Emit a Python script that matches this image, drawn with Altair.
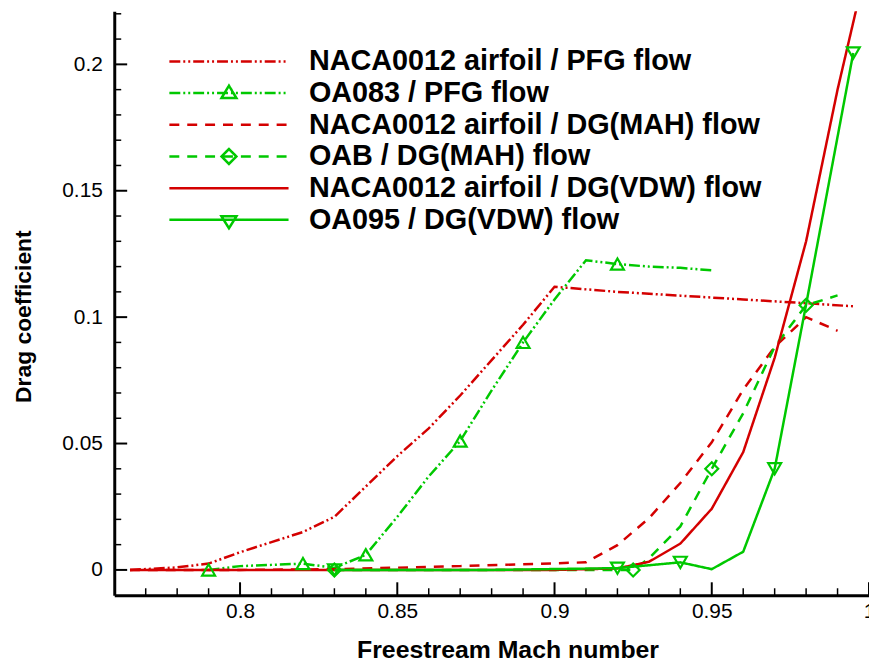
import altair as alt
import pandas as pd

RED = "#d40000"
GREEN = "#00c800"
FONT = "Liberation Sans"

series_names = [
    "NACA0012 airfoil / PFG flow",
    "OA083 / PFG flow",
    "NACA0012 airfoil / DG(MAH) flow",
    "OAB / DG(MAH) flow",
    "NACA0012 airfoil / DG(VDW) flow",
    "OA095 / DG(VDW) flow",
]
series_colors = [RED, GREEN, RED, GREEN, RED, GREEN]
series_dashes = [[11, 3, 2, 3, 2, 3], [11, 3, 2, 3, 2, 3], [10, 8], [10, 8], [1, 0], [1, 0]]

# legend symbols: a 121px line with the marker drawn from each vertex (so dashes cover it)
TRI_UP = "M-0.75,0.5L0,-0.75L0.75,0.5ZM0,-0.75L0.75,0.5L-0.75,0.5ZM0.75,0.5L-0.75,0.5L0,-0.75Z"
DIAM = ("M-0.75,0L0,-0.75L0.75,0L0,0.75ZM0,-0.75L0.75,0L0,0.75L-0.75,0Z"
        "M0.75,0L0,0.75L-0.75,0L0,-0.75ZM0,0.75L-0.75,0L0,-0.75L0.75,0Z")
TRI_DN = "M-0.75,-0.35L0.75,-0.35L0,0.85ZM0.75,-0.35L0,0.85L-0.75,-0.35ZM0,0.85L-0.75,-0.35L0.75,-0.35Z"
legend_shapes = [
    "M-6,0H6",
    "M-6,0H6" + TRI_UP,
    "M-6,0H6",
    "M-6,0H6" + DIAM,
    "M-6,0H6",
    "M-6,0H6" + TRI_DN,
]

# ---- data ----
naca_pfg_mach = [0.765, 0.78, 0.79, 0.80, 0.81, 0.82, 0.83, 0.84, 0.85, 0.86, 0.87, 0.88, 0.89, 0.90, 0.92, 0.94, 0.96, 0.98, 0.995]
naca_pfg_cd = [0.0, 0.001, 0.0025, 0.007, 0.011, 0.015, 0.021, 0.033, 0.045, 0.056, 0.069, 0.083, 0.097, 0.112, 0.110, 0.1085, 0.107, 0.1055, 0.1043]

oa083_mach = [0.79, 0.80, 0.81, 0.82, 0.83, 0.84, 0.85, 0.86, 0.87, 0.88, 0.89, 0.90, 0.91, 0.92, 0.93, 0.94, 0.95]
oa083_cd = [0.0, 0.0015, 0.002, 0.0025, 0.0008, 0.006, 0.021, 0.037, 0.051, 0.071, 0.090, 0.107, 0.1225, 0.121, 0.120, 0.1195, 0.1185]
oa083_marker_mach = [0.79, 0.82, 0.84, 0.87, 0.89, 0.92]

naca_mah_mach = [0.765, 0.80, 0.83, 0.87, 0.91, 0.92, 0.93, 0.94, 0.95, 0.96, 0.97, 0.98, 0.99]
naca_mah_cd = [0.0, 0.0, 0.0003, 0.0015, 0.003, 0.0098, 0.0204, 0.0344, 0.0505, 0.0713, 0.0882, 0.100, 0.0946]

oab_mach = [0.83, 0.88, 0.925, 0.93, 0.94, 0.95, 0.96, 0.97, 0.98, 0.99]
oab_cd = [0.0, 0.0, 0.0, 0.0045, 0.0172, 0.040, 0.062, 0.0883, 0.1047, 0.1086]
oab_marker_mach = [0.83, 0.925, 0.95, 0.98]

naca_vdw_mach = [0.765, 0.80, 0.85, 0.90, 0.92, 0.93, 0.94, 0.95, 0.96, 0.97, 0.98, 0.99, 0.996]
naca_vdw_cd = [0.0, 0.0, 0.0, 0.0, 0.0006, 0.0032, 0.0104, 0.0242, 0.0466, 0.0839, 0.130, 0.190, 0.222]

oa095_mach = [0.83, 0.88, 0.92, 0.94, 0.95, 0.96, 0.97, 0.98, 0.995]
oa095_cd = [0.0, 0.0, 0.0007, 0.003, 0.0003, 0.0072, 0.040, 0.105, 0.2045]
oa095_marker_mach = [0.83, 0.92, 0.94, 0.97, 0.995]

x_major_ticks = [0.8, 0.85, 0.9, 0.95, 1.0]
x_minor_ticks = [0.77, 0.78, 0.79, 0.81, 0.82, 0.83, 0.84, 0.86, 0.87, 0.88, 0.89,
                 0.91, 0.92, 0.93, 0.94, 0.96, 0.97, 0.98, 0.99]
y_major_ticks = [0.0, 0.05, 0.1, 0.15, 0.2]
y_minor_ticks = [0.01, 0.02, 0.03, 0.04, 0.06, 0.07, 0.08, 0.09, 0.11, 0.12, 0.13, 0.14,
                 0.16, 0.17, 0.18, 0.19, 0.21, 0.22]

series_data = [
    (naca_pfg_mach, naca_pfg_cd, []),
    (oa083_mach, oa083_cd, oa083_marker_mach),
    (naca_mah_mach, naca_mah_cd, []),
    (oab_mach, oab_cd, oab_marker_mach),
    (naca_vdw_mach, naca_vdw_cd, []),
    (oa095_mach, oa095_cd, oa095_marker_mach),
]

rows = []
for name, (ms, cds, marks) in zip(series_names, series_data):
    mk = {round(m, 4) for m in marks}
    for i, (m, c) in enumerate(zip(ms, cds)):
        rows.append({"series": name, "M": m, "Cd": c, "marker": round(m, 4) in mk, "order": i})
df = pd.DataFrame(rows)

W, H = 760, 588

xs = alt.Scale(domain=[0.76, 1.0], nice=False, zero=False)
ys = alt.Scale(domain=[-0.01, 0.221], nice=False, zero=False)

x_axis = alt.Axis(
    values=x_major_ticks, format="~g", ticks=False, tickSize=0, grid=False,
    domainColor="black", domainWidth=3, labelColor="black", labelFont=FONT,
    labelFontSize=21, labelPadding=5, labelFlush=False,
    title="Freestream Mach number", titleFont=FONT, titleFontSize=25,
    titleFontWeight="bold", titleColor="black", titleX=396, titleY=63,
    titleBaseline="alphabetic", titleAlign="center",
)
y_axis = alt.Axis(
    values=y_major_ticks, format="~g", ticks=False, tickSize=0, grid=False,
    domainColor="black", domainWidth=3, labelColor="black", labelFont=FONT,
    labelFontSize=21, labelPadding=12, labelFlush=False,
    title="Drag coefficient", titleFont=FONT, titleFontSize=23,
    titleFontWeight="bold", titleColor="black", titleX=-84, titleY=307,
    titleAngle=270, titleBaseline="alphabetic", titleAlign="center",
)

x_enc = alt.X("M:Q", scale=xs, axis=x_axis)
y_enc = alt.Y("Cd:Q", scale=ys, axis=y_axis)

color_scale = alt.Scale(domain=series_names, range=series_colors)
dash_scale = alt.Scale(domain=series_names, range=series_dashes)
shape_scale = alt.Scale(domain=series_names, range=legend_shapes)

legend = alt.Legend(
    orient="none", legendX=101, legendY=36, title=None, padding=0,
    labelFont=FONT, labelFontSize=29, labelFontWeight="bold", labelColor="black",
    labelLimit=0, labelOffset=66, symbolSize=400, symbolStrokeWidth=2.5,
    rowPadding=1.9,
)

layers = []
for name in series_names:
    layers.append(
        alt.Chart(df).transform_filter(alt.datum.series == name)
        .mark_line(strokeWidth=2.5, clip=True)
        .encode(
            x=x_enc, y=y_enc, order="order:Q",
            color=alt.Color("series:N", scale=color_scale, legend=legend),
            strokeDash=alt.StrokeDash("series:N", scale=dash_scale, legend=legend),
        )
    )

marker_shapes = {
    "OA083 / PFG flow": "triangle-up",
    "OAB / DG(MAH) flow": "diamond",
    "OA095 / DG(VDW) flow": "triangle-down",
}
for name, shp in marker_shapes.items():
    layers.append(
        alt.Chart(df).transform_filter((alt.datum.series == name) & alt.datum.marker)
        .mark_point(shape=shp, filled=False, size=170, strokeWidth=2.2, color=GREEN, opacity=1)
        .encode(x=x_enc, y=y_enc)
    )

# legend-shape layer (no visible marks)
layers.append(
    alt.Chart(df).transform_filter(alt.datum.M < 0)
    .mark_point(filled=False, strokeWidth=2.5, opacity=1)
    .encode(
        x=x_enc, y=y_enc,
        color=alt.Color("series:N", scale=color_scale, legend=legend),
        strokeDash=alt.StrokeDash("series:N", scale=dash_scale, legend=legend),
        shape=alt.Shape("series:N", scale=shape_scale, legend=legend),
    )
)

# inward ticks
xmaj = pd.DataFrame({"M": x_major_ticks})
xmin = pd.DataFrame({"M": x_minor_ticks})
ymaj = pd.DataFrame({"Cd": y_major_ticks})
ymin = pd.DataFrame({"Cd": y_minor_ticks})
layers.append(alt.Chart(xmaj).mark_rule(color="black", strokeWidth=2)
              .encode(x=x_enc, y=alt.value(H - 13), y2=alt.value(H)))
layers.append(alt.Chart(xmin).mark_rule(color="black", strokeWidth=1.5)
              .encode(x=x_enc, y=alt.value(H - 7), y2=alt.value(H)))
layers.append(alt.Chart(ymaj).mark_rule(color="black", strokeWidth=2)
              .encode(y=y_enc, x=alt.value(0), x2=alt.value(13)))
layers.append(alt.Chart(ymin).mark_rule(color="black", strokeWidth=1.5)
              .encode(y=y_enc, x=alt.value(0), x2=alt.value(7)))

chart = (
    alt.layer(*layers)
    .properties(
        width=W, height=H,
        padding={"left": 107, "top": 1, "right": 0, "bottom": 70},
        autosize=alt.AutoSizeParams(type="none"),
        background="white",
    )
    .configure_view(stroke=None)
)

chart.save("out.html", embed_options={"renderer": "svg", "actions": False})
